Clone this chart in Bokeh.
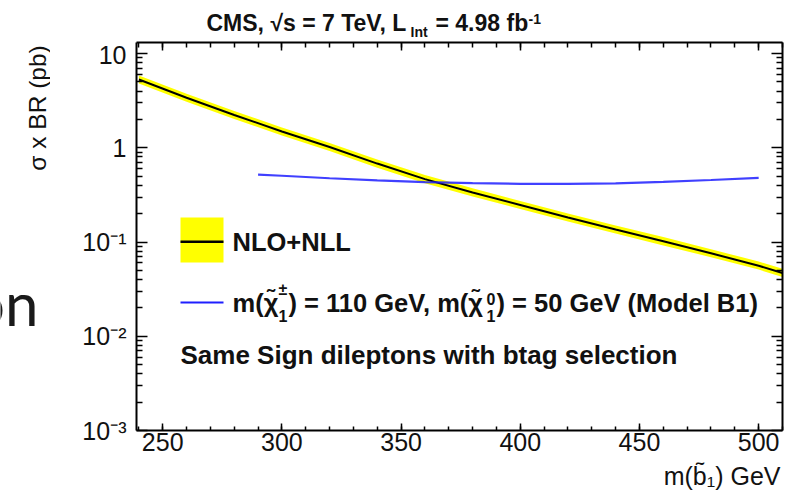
import math
from bokeh.plotting import figure
from bokeh.layouts import column, row
from bokeh.models import Label, BoxAnnotation, LinearAxis, LogAxis, FixedTicker, SingleIntervalTicker
from bokeh.embed import file_html
from bokeh.resources import INLINE

# ---- data ----
mass_nlo = [240, 260, 280, 300, 320, 340, 360, 380, 400, 420, 440, 460, 480, 500, 510]
xsec_nlo = [5.3, 3.4, 2.23, 1.49, 1.02, 0.68, 0.465, 0.336, 0.247, 0.182, 0.136, 0.102, 0.076, 0.056, 0.047]
xsec_nlo_lo = [4.8, 3.08, 2.02, 1.35, 0.925, 0.615, 0.421, 0.304, 0.224, 0.165, 0.123, 0.092, 0.069, 0.051, 0.0425]
xsec_nlo_hi = [5.85, 3.75, 2.46, 1.64, 1.125, 0.75, 0.513, 0.371, 0.272, 0.201, 0.15, 0.113, 0.084, 0.062, 0.052]

mass_b1 = [290, 300, 320, 340, 360, 380, 400, 420, 440, 460, 480, 500]
xsec_b1 = [0.52, 0.505, 0.475, 0.452, 0.433, 0.422, 0.415, 0.415, 0.42, 0.435, 0.455, 0.48]

x_major = [250, 300, 350, 400, 450, 500]
y_major = [1e-3, 1e-2, 1e-1, 1, 10]
y_labels = ["10\u207b\u00b3", "10\u207b\u00b2", "10\u207b\u00b9", "1", "10"]

# ---- geometry (canvas pixels of the whole 788x490 page) ----
W, H = 788, 490
TOP_H = 40          # strip holding the header text
BOT_Y = 462         # strip holding the x-axis title starts here
SIDE_W = 50         # strip holding the y-axis title
XMIN, XMAX = 239, 510
YMIN, YMAX = 1e-3, 13.1
FL, FR, FT, FB = 136, 782, 42, 430

def dx(px):
    return XMIN + (px - FL) * (XMAX - XMIN) / (FR - FL)

def dy(py):
    a, b = math.log10(YMIN), math.log10(YMAX)
    return 10 ** (a + (FB - py) * (b - a) / (FB - FT))

FONT = "Liberation Sans"

def blank(width, height):
    f = figure(width=width, height=height, x_range=(0, width), y_range=(0, height),
               output_backend="svg", toolbar_location=None, min_border=0,
               x_axis_location=None, y_axis_location=None)
    f.outline_line_color = None
    f.grid.visible = False
    return f

def add_text(fig, x, y, text, size, bold=False, align="left", baseline="middle",
             angle=0, font=FONT, color="#111111"):
    fig.add_layout(Label(x=x, y=y, text=text, text_font=font,
                         text_font_size=f"{size}px",
                         text_font_style="bold" if bold else "normal",
                         text_align=align, text_baseline=baseline, angle=angle,
                         text_color=color))

# ---- main plot ----
main_w, main_h = W - SIDE_W, BOT_Y - TOP_H
p = figure(width=main_w, height=main_h, x_range=(XMIN, XMAX), y_range=(YMIN, YMAX),
           y_axis_type="log", output_backend="svg", toolbar_location=None,
           min_border_left=FL - SIDE_W, min_border_right=W - FR,
           min_border_top=FT - TOP_H, min_border_bottom=BOT_Y - FB)
p.xgrid.visible = False
p.ygrid.visible = False
p.outline_line_color = None

yminor = [m * 10 ** e for e in range(-3, 2) for m in range(2, 10)]
yticker = FixedTicker(ticks=y_major, minor_ticks=yminor)
xticker = SingleIntervalTicker(interval=50, num_minor_ticks=5)

def style_axis(ax, major_in, minor_in):
    ax.axis_line_width = 2
    ax.axis_line_color = "black"
    ax.major_tick_out = 0
    ax.minor_tick_out = 0
    ax.major_tick_in = major_in
    ax.minor_tick_in = minor_in
    ax.major_tick_line_width = 1.5
    ax.minor_tick_line_width = 1.5
    ax.major_tick_line_color = "black"
    ax.minor_tick_line_color = "black"

ly = p.yaxis[0]
ly.ticker = yticker
ly.major_label_overrides = {v: t for v, t in zip(y_major, y_labels)}
ly.major_label_text_font = FONT
ly.major_label_text_font_size = "25px"
ly.major_label_text_color = "#111111"
ly.major_label_standoff = 10
style_axis(ly, 11, 6)

bx = p.xaxis[0]
bx.ticker = xticker
bx.major_label_text_font = FONT
bx.major_label_text_font_size = "25px"
bx.major_label_text_color = "#111111"
bx.major_label_standoff = 2
style_axis(bx, 7, 4)

ry = LogAxis(ticker=yticker, major_label_standoff=0, major_label_text_font_size="1px",
             major_label_overrides={v: "" for v in y_major})
style_axis(ry, 11, 6)
p.add_layout(ry, "right")
tx = LinearAxis(ticker=xticker, major_label_standoff=0, major_label_text_font_size="1px",
                major_label_overrides={v: "" for v in x_major})
style_axis(tx, 8, 5)
p.add_layout(tx, "above")

p.varea(x=mass_nlo, y1=xsec_nlo_lo, y2=xsec_nlo_hi, fill_color="#ffff00", fill_alpha=1)
p.line(mass_nlo, xsec_nlo, line_color="black", line_width=2)
p.line(mass_b1, xsec_b1, line_color="#1f1fff", line_width=2.2, line_alpha=0.85)

def lab(px, py, text, size, bold=False, **kw):
    add_text(p, dx(px), dy(py), text, size, bold, **kw)

# legend
p.add_layout(BoxAnnotation(left=dx(180), right=dx(223), top=dy(217), bottom=dy(262),
                           fill_color="#ffff00", fill_alpha=1, line_color=None))
p.add_layout(BoxAnnotation(left=dx(180), right=dx(223), top=dy(240), bottom=dy(242.4),
                           fill_color="black", fill_alpha=1, line_color=None))
p.add_layout(BoxAnnotation(left=dx(180), right=dx(223), top=dy(301), bottom=dy(303),
                           fill_color="#1f1fff", fill_alpha=1, line_color=None))
lab(232, 241, "NLO+NLL", 25.5, True)
lab(232, 302, "m(\u03c7\u0303", 25.5, True)
lab(278, 289, "\u00b1", 16, True)
lab(278, 315, "1", 16, True)
lab(288, 302, ") = 110 GeV, m(\u03c7\u0303", 25.5, True)
lab(486, 298, "0", 16, True)
lab(486, 315, "1", 16, True)
lab(496, 302, ") = 50 GeV (Model B1)", 25.5, True)
lab(180, 354, "Same Sign dileptons with btag selection", 26, True)

# ---- header strip ----
top = blank(W, TOP_H)
def tt(px, py, text, size, **kw):
    add_text(top, px, TOP_H - py, text, size, True, **kw)
tt(206, 22.5, "CMS, \u221as = 7 TeV, L", 23)
tt(410, 31.5, "Int", 14)
tt(435, 22.5, "= 4.98 fb", 23)
tt(528, 18.5, "-1", 14)

# ---- left strip: y-axis title and slide fragment ----
side = blank(SIDE_W, main_h)
def st(px, py, text, size, **kw):
    add_text(side, px, BOT_Y - py, text, size, **kw)
st(37, 43, "\u03c3 x BR (pb)", 24.5, align="right", angle=math.pi / 2)
st(38, 323, "on", 60, align="right", baseline="alphabetic", font="Lato", color="#1a1a1a")

# ---- bottom strip: x-axis title ----
bot = blank(W, H - BOT_Y)
add_text(bot, 780, H - 475, "m(b\u0303\u2081) GeV", 25, align="right")

layout = column(top, row(side, p), bot)
open("out.html", "w").write(file_html(layout, INLINE))
